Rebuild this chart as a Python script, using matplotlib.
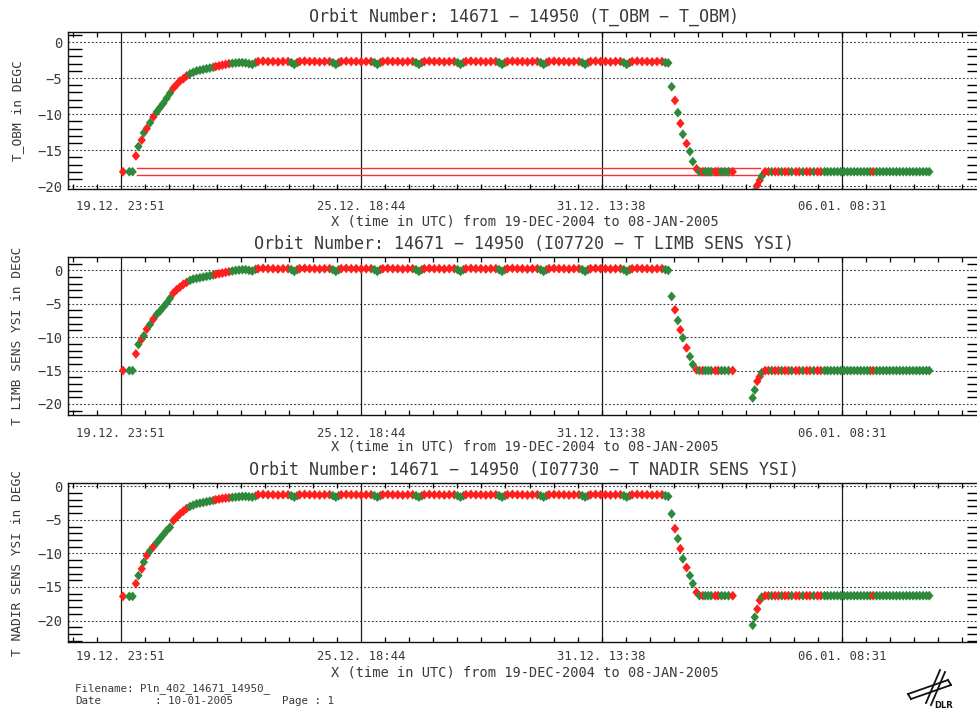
import numpy as np
import matplotlib
matplotlib.use("Agg")
import matplotlib.pyplot as plt
from matplotlib.lines import Line2D
from matplotlib.path import Path

# ---------------- data (x = days since 19-DEC-2004 00:00 UTC) ----------------
tick_days = [0.99375, 6.78056, 12.56806, 18.35486]
tick_labels = ["19.12. 23:51", "25.12. 18:44", "31.12. 13:38", "06.01. 08:31"]
y_ticks = [0, -5, -10, -15, -20]

titles = ["Orbit Number: 14671 \u2212 14950 (T_OBM \u2212 T_OBM)",
          "Orbit Number: 14671 \u2212 14950 (I07720 \u2212 T LIMB SENS YSI)",
          "Orbit Number: 14671 \u2212 14950 (I07730 \u2212 T NADIR SENS YSI)"]
ylabels = ["T_OBM in DEGC", "T LIMB SENS YSI in DEGC", "T NADIR SENS YSI in DEGC"]
xlabel_text = "X (time in UTC) from 19-DEC-2004 to 08-JAN-2005"

# segment 1: initial level and warm-up
rise_t = [1.05, 1.20, 1.28,
          1.36, 1.42, 1.50, 1.55, 1.62, 1.70, 1.78,
          1.86, 1.94, 2.02, 2.10, 2.18,
          2.26, 2.34, 2.42, 2.50, 2.58,
          2.66, 2.74, 2.82, 2.90, 2.98, 3.06, 3.14, 3.22,
          3.28, 3.36, 3.44, 3.52, 3.60,
          3.68, 3.76, 3.84, 3.92, 4.00, 4.08, 4.16, 4.24]
rise_c = "rgg" "rgrgrgr" "ggggg" "rrrrr" "gggggggg" "rrrrr" "gggggggg"
rise_obm = [-18.0, -18.0, -18.0,
            -15.8, -14.5, -13.6, -12.6, -12.0, -11.2, -10.4,
            -9.7, -9.1, -8.5, -7.8, -7.1,
            -6.4, -5.9, -5.4, -5.1, -4.7,
            -4.4, -4.2, -4.0, -3.9, -3.8, -3.7, -3.6, -3.5,
            -3.4, -3.3, -3.2, -3.1, -3.0,
            -2.95, -2.9, -2.85, -2.85, -2.9, -3.0, -3.1, -2.85]
rise_limb = [-15.0, -15.0, -15.0,
             -12.5, -11.1, -10.3, -9.8, -8.8, -8.1, -7.3,
             -6.6, -6.1, -5.5, -4.9, -4.2,
             -3.4, -2.9, -2.5, -2.1, -1.8,
             -1.5, -1.3, -1.2, -1.1, -1.0, -0.9, -0.8, -0.7,
             -0.6, -0.5, -0.4, -0.3, -0.2,
             -0.1, 0.0, 0.05, 0.1, 0.1, 0.0, -0.1, 0.15]
rise_nadir = [-16.4, -16.4, -16.4,
              -14.5, -13.3, -12.3, -11.3, -10.3, -9.6, -9.0,
              -8.4, -7.8, -7.2, -6.6, -6.1,
              -5.1, -4.6, -4.1, -3.7, -3.3,
              -3.0, -2.8, -2.6, -2.5, -2.4, -2.3, -2.2, -2.1,
              -2.0, -1.9, -1.8, -1.75, -1.7,
              -1.65, -1.6, -1.55, -1.5, -1.5, -1.55, -1.6, -1.45]

# segment 2: stable level
plat_t = [4.30, 4.42, 4.54, 4.66, 4.78, 4.90, 5.02, 5.10, 5.17, 5.24,
          5.30, 5.42, 5.54, 5.66, 5.78, 5.90, 6.02, 6.10, 6.17, 6.24,
          6.30, 6.42, 6.54, 6.66, 6.78, 6.90, 7.02, 7.10, 7.17, 7.24,
          7.30, 7.42, 7.54, 7.66, 7.78, 7.90, 8.02, 8.10, 8.17, 8.24,
          8.30, 8.42, 8.54, 8.66, 8.78, 8.90, 9.02, 9.10, 9.17, 9.24,
          9.30, 9.42, 9.54, 9.66, 9.78, 9.90, 10.02, 10.10, 10.17, 10.24,
          10.30, 10.42, 10.54, 10.66, 10.78, 10.90, 11.02, 11.10, 11.17, 11.24,
          11.30, 11.42, 11.54, 11.66, 11.78, 11.90, 12.02, 12.10, 12.17, 12.24,
          12.30, 12.42, 12.54, 12.66, 12.78, 12.90, 13.02, 13.10, 13.17, 13.24,
          13.30, 13.42, 13.54, 13.66, 13.78, 13.90, 14.02, 14.10, 14.17]
plat_c = ("rrrrrrrggg" "rrrrrrrggg" "rrrrrrrggg" "rrrrrrrggg" "rrrrrrrggg"
          "rrrrrrrggg" "rrrrrrrggg" "rrrrrrrggg" "rrrrrrrggg" "rrrrrrrgg")
plat_obm = [-2.7, -2.65, -2.7, -2.7, -2.75, -2.7, -2.7, -2.85, -3.1, -2.85,
            -2.7, -2.65, -2.7, -2.7, -2.75, -2.7, -2.7, -2.85, -3.1, -2.85,
            -2.7, -2.65, -2.7, -2.7, -2.75, -2.7, -2.7, -2.85, -3.1, -2.85,
            -2.7, -2.65, -2.7, -2.7, -2.75, -2.7, -2.7, -2.85, -3.1, -2.85,
            -2.7, -2.65, -2.7, -2.7, -2.75, -2.7, -2.7, -2.85, -3.1, -2.85,
            -2.7, -2.65, -2.7, -2.7, -2.75, -2.7, -2.7, -2.85, -3.1, -2.85,
            -2.7, -2.65, -2.7, -2.7, -2.75, -2.7, -2.7, -2.85, -3.1, -2.85,
            -2.7, -2.65, -2.7, -2.7, -2.75, -2.7, -2.7, -2.85, -3.1, -2.85,
            -2.7, -2.65, -2.7, -2.7, -2.75, -2.7, -2.7, -2.85, -3.1, -2.85,
            -2.7, -2.65, -2.7, -2.7, -2.75, -2.7, -2.7, -2.85, -2.9]
plat_limb = [0.25, 0.3, 0.25, 0.25, 0.2, 0.25, 0.25, 0.1, -0.15, 0.1,
             0.25, 0.3, 0.25, 0.25, 0.2, 0.25, 0.25, 0.1, -0.15, 0.1,
             0.25, 0.3, 0.25, 0.25, 0.2, 0.25, 0.25, 0.1, -0.15, 0.1,
             0.25, 0.3, 0.25, 0.25, 0.2, 0.25, 0.25, 0.1, -0.15, 0.1,
             0.25, 0.3, 0.25, 0.25, 0.2, 0.25, 0.25, 0.1, -0.15, 0.1,
             0.25, 0.3, 0.25, 0.25, 0.2, 0.25, 0.25, 0.1, -0.15, 0.1,
             0.25, 0.3, 0.25, 0.25, 0.2, 0.25, 0.25, 0.1, -0.15, 0.1,
             0.25, 0.3, 0.25, 0.25, 0.2, 0.25, 0.25, 0.1, -0.15, 0.1,
             0.25, 0.3, 0.25, 0.25, 0.2, 0.25, 0.25, 0.1, -0.15, 0.1,
             0.25, 0.3, 0.25, 0.25, 0.2, 0.25, 0.25, 0.1, 0.0]
plat_nadir = [-1.25, -1.2, -1.25, -1.25, -1.3, -1.25, -1.25, -1.4, -1.6, -1.4,
              -1.25, -1.2, -1.25, -1.25, -1.3, -1.25, -1.25, -1.4, -1.6, -1.4,
              -1.25, -1.2, -1.25, -1.25, -1.3, -1.25, -1.25, -1.4, -1.6, -1.4,
              -1.25, -1.2, -1.25, -1.25, -1.3, -1.25, -1.25, -1.4, -1.6, -1.4,
              -1.25, -1.2, -1.25, -1.25, -1.3, -1.25, -1.25, -1.4, -1.6, -1.4,
              -1.25, -1.2, -1.25, -1.25, -1.3, -1.25, -1.25, -1.4, -1.6, -1.4,
              -1.25, -1.2, -1.25, -1.25, -1.3, -1.25, -1.25, -1.4, -1.6, -1.4,
              -1.25, -1.2, -1.25, -1.25, -1.3, -1.25, -1.25, -1.4, -1.6, -1.4,
              -1.25, -1.2, -1.25, -1.25, -1.3, -1.25, -1.25, -1.4, -1.6, -1.4,
              -1.25, -1.2, -1.25, -1.25, -1.3, -1.25, -1.25, -1.4, -1.5]

# segment 3: cool-down and low level
drop_t = [14.25, 14.33, 14.40, 14.46, 14.52, 14.61, 14.69, 14.76, 14.85, 14.92,
          15.00, 15.06, 15.13, 15.20, 15.30, 15.37, 15.45, 15.53, 15.62, 15.72]
drop_c = "grgrgrggrg" "rgggrrgggr"
drop_obm = [-6.2, -8.1, -9.8, -11.3, -12.8, -14.1, -15.2, -16.6, -17.6, -18.0,
            -18.0, -18.0, -18.0, -18.0, -18.0, -18.0, -18.0, -18.0, -18.0, -18.0]
drop_limb = [-3.9, -5.9, -7.5, -8.9, -10.1, -11.6, -12.9, -14.1, -14.9, -15.0,
             -15.0, -15.0, -15.0, -15.0, -15.0, -15.0, -15.0, -15.0, -15.0, -15.0]
drop_nadir = [-4.1, -6.3, -7.8, -9.3, -10.8, -12.1, -13.3, -14.5, -15.8, -16.3,
              -16.3, -16.3, -16.3, -16.3, -16.3, -16.3, -16.3, -16.3, -16.3, -16.3]

# segment 4: dip, recovery and low level
rec_t = [16.20, 16.25, 16.31, 16.37, 16.42,
         16.50, 16.58, 16.66, 16.74, 16.82, 16.90, 16.98, 17.06, 17.14, 17.24,
         17.32, 17.41, 17.50, 17.58, 17.67, 17.76, 17.84, 17.93, 18.00,
         18.08, 18.16, 18.24, 18.32, 18.40, 18.48, 18.56, 18.64, 18.72, 18.80,
         18.88, 18.96, 19.03, 19.10,
         19.18, 19.26, 19.34, 19.42, 19.50, 19.58, 19.66, 19.74, 19.82, 19.90,
         19.98, 20.06, 20.14, 20.22, 20.30, 20.38, 20.45]
rec_c = ("ggrrg"
         "rrgrrgrrgr"
         "rgrrgrrgg"
         "gggggggggg"
         "gggr"
         "gggggggggg"
         "ggggggg")
rec_obm = [-21.0, -20.7, -19.9, -19.2, -18.6,
           -18.0, -18.0, -18.0, -18.0, -18.0, -18.0, -18.0, -18.0, -18.0, -18.0,
           -18.0, -18.0, -18.0, -18.0, -18.0, -18.0, -18.0, -18.0, -18.0,
           -18.0, -18.0, -18.0, -18.0, -18.0, -18.0, -18.0, -18.0, -18.0, -18.0,
           -18.0, -18.0, -18.0, -18.0,
           -18.0, -18.0, -18.0, -18.0, -18.0, -18.0, -18.0, -18.0, -18.0, -18.0,
           -18.0, -18.0, -18.0, -18.0, -18.0, -18.0, -18.0]
rec_limb = [-19.1, -17.9, -16.6, -15.9, -15.3,
            -15.0, -15.0, -15.0, -15.0, -15.0, -15.0, -15.0, -15.0, -15.0, -15.0,
            -15.0, -15.0, -15.0, -15.0, -15.0, -15.0, -15.0, -15.0, -15.0,
            -15.0, -15.0, -15.0, -15.0, -15.0, -15.0, -15.0, -15.0, -15.0, -15.0,
            -15.0, -15.0, -15.0, -15.0,
            -15.0, -15.0, -15.0, -15.0, -15.0, -15.0, -15.0, -15.0, -15.0, -15.0,
            -15.0, -15.0, -15.0, -15.0, -15.0, -15.0, -15.0]
rec_nadir = [-20.7, -19.5, -18.3, -17.0, -16.5,
             -16.3, -16.3, -16.3, -16.3, -16.3, -16.3, -16.3, -16.3, -16.3, -16.3,
             -16.3, -16.3, -16.3, -16.3, -16.3, -16.3, -16.3, -16.3, -16.3,
             -16.3, -16.3, -16.3, -16.3, -16.3, -16.3, -16.3, -16.3, -16.3, -16.3,
             -16.3, -16.3, -16.3, -16.3,
             -16.3, -16.3, -16.3, -16.3, -16.3, -16.3, -16.3, -16.3, -16.3, -16.3,
             -16.3, -16.3, -16.3, -16.3, -16.3, -16.3, -16.3]

# two red connection lines in the T_OBM panel
obm_line_t = [1.39, 16.38]
obm_line_y = [-17.55, -18.5]

footer_file = "Filename: Pln_402_14671_14950_"
footer_date = "10-01-2005"
footer_page = "Page : 1"

# ---------------- assemble ----------------
times = np.array(rise_t + plat_t + drop_t + rec_t)
cflags = rise_c + plat_c + drop_c + rec_c
series = [np.array(rise_obm + plat_obm + drop_obm + rec_obm),
          np.array(rise_limb + plat_limb + drop_limb + rec_limb),
          np.array(rise_nadir + plat_nadir + drop_nadir + rec_nadir)]
RED, GREEN = "#ff1f1f", "#2e8a3a"
colors = [RED if c == "r" else GREEN for c in cflags]

# diamond marker slightly taller than wide
diamond = Path([(0, 1), (0.85, 0), (0, -1), (-0.85, 0), (0, 1)],
               [Path.MOVETO, Path.LINETO, Path.LINETO, Path.LINETO, Path.CLOSEPOLY])

# ---------------- layout ----------------
W, H = 978, 713
fig = plt.figure(figsize=(W / 100, H / 100), dpi=100)
fig.patch.set_facecolor("white")

LEFT, RIGHT = 68, 981
boxes = [(32, 189), (257, 415), (483, 642)]
ylims = [(-20.4, 1.4), (-21.65, 2.0), (-23.2, 0.5)]
title_y = [17, 244, 470]
tick_pad = [11.0, 12.0, 8.5]
xlabel_y = [222, 447, 672]
px_per_day = 41.56
xlim = (tick_days[0] - (120.7 - LEFT) / px_per_day,
        tick_days[0] + (RIGHT - 120.7) / px_per_day)
step = (tick_days[1] - tick_days[0]) / 10.0
minor_x = tick_days[0] + step * np.arange(-3, 40)
minor_x = minor_x[(minor_x > xlim[0]) & (minor_x < xlim[1])]

FONT = "DejaVu Sans Mono"
TXT = "#3a3a3a"
for i, (top, bot) in enumerate(boxes):
    ax = fig.add_axes([LEFT / W, 1 - bot / H, (RIGHT - LEFT) / W, (bot - top) / H])
    ax.set_xlim(*xlim)
    ax.set_ylim(*ylims[i])
    for v in y_ticks:
        ax.axhline(v, color="#3a3a3a", lw=0.8, ls=(0, (1.6, 1.9)), zorder=1)
    for t in tick_days:
        ax.axvline(t, color="#1a1a1a", lw=0.9, zorder=1)
    if i == 0:
        for yv in obm_line_y:
            ax.plot(obm_line_t, [yv, yv], color="#ff3030", lw=1.0, zorder=2)
    ax.scatter(times, series[i], c=colors, marker=diamond, s=50, linewidths=0,
               zorder=3, clip_on=True)
    # ticks
    ax.set_xticks(tick_days)
    ax.set_xticklabels(tick_labels, fontsize=8.8, family=FONT, color=TXT)
    ax.set_xticks(minor_x, minor=True)
    ax.tick_params(axis="x", which="major", length=0, pad=tick_pad[i] * 0.72)
    ax.tick_params(axis="x", which="minor", direction="in", length=3.5,
                   width=0.9, top=True, bottom=True)
    ax.set_yticks(y_ticks)
    ax.set_yticklabels([str(v).replace("-", "\u2212") for v in y_ticks],
                       fontsize=10, family=FONT, color=TXT)
    ax.set_yticks(np.arange(np.ceil(ylims[i][0]), ylims[i][1], 1.0), minor=True)
    ax.tick_params(axis="y", which="major", length=0, pad=4)
    ax.tick_params(axis="y", which="minor", direction="in", length=10,
                   width=1.0, left=True, right=True)
    for s in ax.spines.values():
        s.set_linewidth(1.0)
        s.set_color("#111111")
    ax.set_facecolor("white")
    # texts
    fig.text(524 / W, 1 - title_y[i] / H, titles[i], ha="center", va="center",
             fontsize=12, family=FONT, color=TXT)
    fig.text(525 / W, 1 - xlabel_y[i] / H, xlabel_text, ha="center",
             va="center", fontsize=9.8, family=FONT, color=TXT)
    fig.text(18 / W, 1 - (top + bot) / 2 / H, ylabels[i], ha="center",
             va="center", rotation=90, fontsize=9.3, family=FONT, color=TXT)

# footer
FS = 7.8
fig.text(75 / W, 1 - 689 / H, footer_file, ha="left", va="center",
         fontsize=FS, family=FONT, color=TXT)
fig.text(75 / W, 1 - 701 / H, "Date", ha="left", va="center",
         fontsize=FS, family=FONT, color=TXT)
fig.text(155 / W, 1 - 701 / H, ": " + footer_date, ha="left", va="center",
         fontsize=FS, family=FONT, color=TXT)
fig.text(282 / W, 1 - 701 / H, footer_page, ha="left", va="center",
         fontsize=FS, family=FONT, color=TXT)

# DLR logo (simplified)
def pxline(xs, ys, lw=1.3):
    fig.add_artist(Line2D([x / W for x in xs], [1 - y / H for y in ys],
                          transform=fig.transFigure, color="#111111", lw=lw))

pxline([908, 948], [694, 680])
pxline([911, 951], [699, 685])
pxline([940, 926], [670, 703])
pxline([945, 931], [672, 705])
pxline([908, 911], [694, 699])
pxline([948, 951], [680, 685])
fig.text(944 / W, 1 - 705 / H, "DLR", ha="center", va="center", fontsize=6,
         fontweight="bold", family="DejaVu Sans", color="#111111")

fig.savefig("out.png", dpi=100, facecolor="white")
